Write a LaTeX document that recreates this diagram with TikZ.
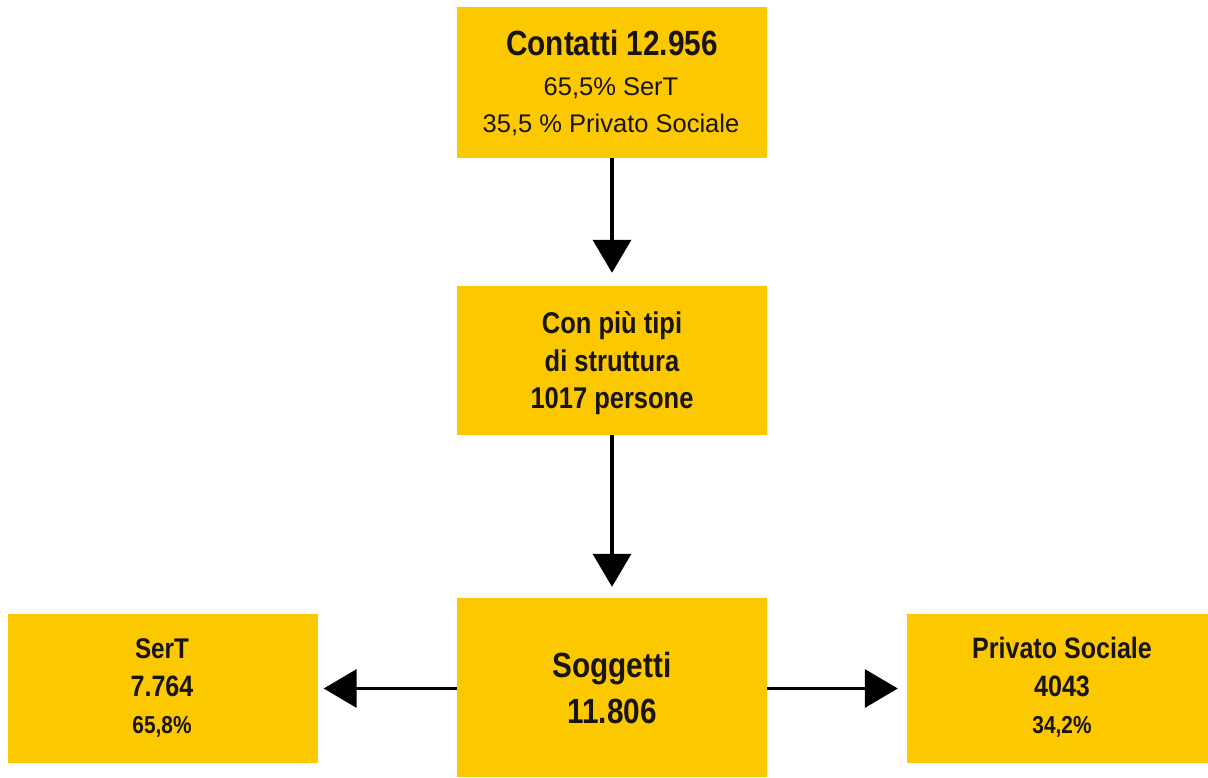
\documentclass[tikz,border=0pt]{standalone}
\usepackage{fontspec}
\setmainfont{Liberation Sans}[BoldFeatures={FakeStretch=0.85}]
\usetikzlibrary{arrows.meta}
\definecolor{gold}{RGB}{252,201,0}
\definecolor{ink}{RGB}{25,20,15}
\tikzset{
  box/.style={fill=gold, draw=none, inner sep=0pt, minimum width=310pt},
  txt/.style={anchor=base, inner sep=0pt, text=ink},
  conn/.style={line width=3.5pt, draw=black, -{Triangle[length=33pt,width=38pt]}},
}
\newcommand{\fs}[1]{\fontsize{#1}{#1}\selectfont}
\begin{document}
\begin{tikzpicture}[x=1pt,y=-1pt]
\useasboundingbox[fill=white] (0,0) rectangle (1208,777);
% boxes
\node[box, minimum height=151pt] (top) at (612,82.5) {};
\node[box, minimum height=149pt] (mid) at (612,360.5) {};
\node[box, minimum height=179pt] (bot) at (612,687.5) {};
\node[box, minimum height=149pt] (sert) at (162.5,688.5) {};
\node[box, minimum height=149pt, minimum width=301pt] (priv) at (1057.5,688.5) {};
% texts
\node[txt, font=\fs{35}\bfseries] (t1) at (612,55) {Contatti 12.956};
\node[txt, font=\fs{25.5}] (t2) at (611,95) {65,5\% SerT};
\node[txt, font=\fs{25.5}] (t3) at (611,132) {35,5 \% Privato Sociale};
\node[txt, font=\fs{30}\bfseries] (m1) at (612,333) {Con più tipi};
\node[txt, font=\fs{30}\bfseries] (m2) at (612,371) {di struttura};
\node[txt, font=\fs{30}\bfseries] (m3) at (612,408) {1017 persone};
\node[txt, font=\fs{35}\bfseries] (b1) at (612,677) {Soggetti};
\node[txt, font=\fs{35}\bfseries] (b2) at (612,723) {11.806};
\node[txt, font=\fs{28.5}\bfseries] (s1) at (162,658) {SerT};
\node[txt, font=\fs{29.5}\bfseries] (s2) at (162,696) {7.764};
\node[txt, font=\fs{24.5}\bfseries] (s3) at (162,733) {65,8\%};
\node[txt, font=\fs{29.5}\bfseries] (p1) at (1062,658) {Privato Sociale};
\node[txt, font=\fs{29.5}\bfseries] (p2) at (1062,696) {4043};
\node[txt, font=\fs{24.5}\bfseries] (p3) at (1062,733) {34,2\%};
% connectors
\draw[conn, shorten >=13pt] (top.south) -- (mid.north);
\draw[conn, shorten >=11pt] (mid.south) -- (bot.north);
\draw[conn, shorten >=6pt] (sert.east -| bot.west) -- (sert.east);
\draw[conn, shorten >=9pt] (sert.east -| bot.east) -- (priv.west);
\end{tikzpicture}
\end{document}
